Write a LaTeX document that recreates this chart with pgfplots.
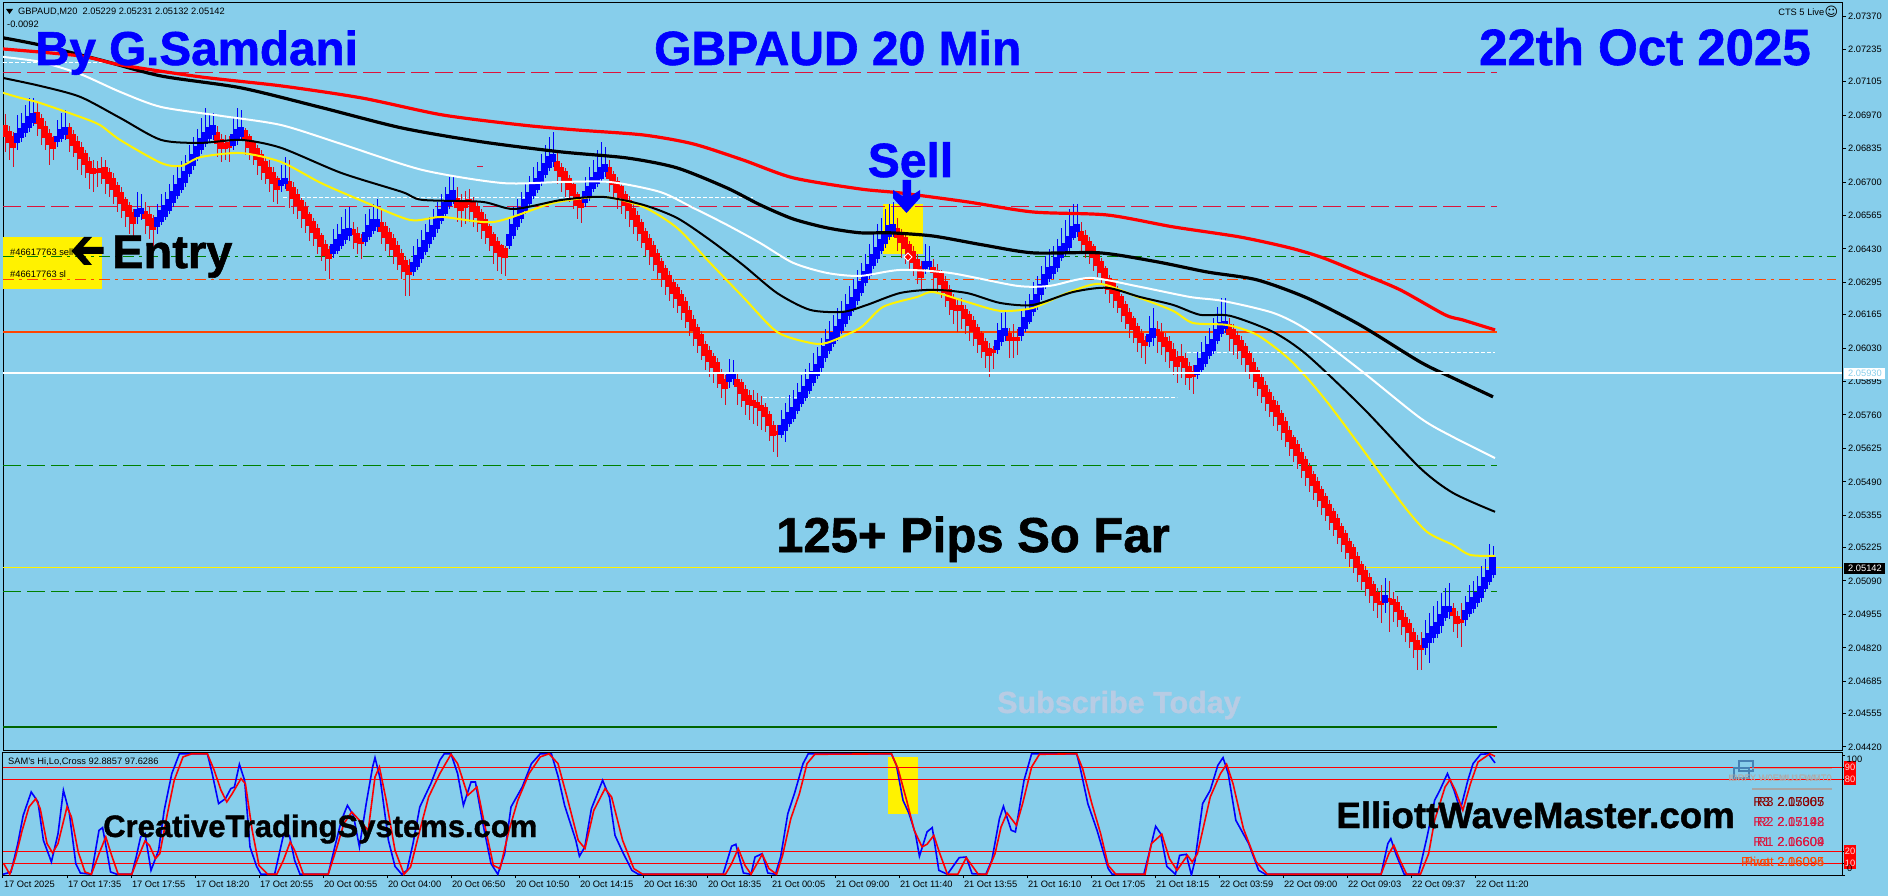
\documentclass[border=0pt]{standalone}
\usepackage{fontspec}
\setmainfont{Liberation Sans}[BoldFeatures={FakeBold=1.2}]
\newfontfamily\dejavu{DejaVu Sans}
\usepackage{pgfplots}
\usepackage{pgfplotstable}
\pgfplotsset{compat=1.18}
\definecolor{chartbg}{RGB}{135,206,235}
\definecolor{crim}{RGB}{220,20,60}
\definecolor{ored}{RGB}{255,69,0}
\definecolor{dgreen}{RGB}{0,128,0}
\definecolor{ddgreen}{RGB}{0,100,0}
\definecolor{pale}{RGB}{184,204,228}
\definecolor{steel}{RGB}{70,130,180}
\definecolor{wickred}{RGB}{215,15,35}
% all prices below are points above 2.04000 (1 point = 0.00001); x is the bar number
\pgfplotstableread{
i o c h l
0 2924 2888 2975 2820
1 2900 2864 2925 2790
2 2880 2844 2900 2760
8 2977 2941 3020 2885
9 2953 2917 2975 2850
10 2920 2884 2945 2830
11 2892 2856 2915 2770
12 2876 2840 2885 2790
16 2916 2880 2940 2820
17 2888 2852 2910 2800
18 2860 2824 2885 2750
19 2835 2799 2860 2730
20 2811 2775 2830 2715
21 2779 2743 2800 2670
22 2752 2738 2790 2660
23 2749 2741 2785 2680
24 2750 2740 2800 2690
25 2755 2719 2790 2650
26 2735 2699 2755 2640
27 2710 2674 2735 2610
28 2682 2646 2700 2580
29 2654 2618 2680 2555
30 2626 2590 2640 2520
31 2601 2565 2620 2490
32 2573 2537 2590 2475
35 2577 2557 2620 2490
36 2565 2529 2600 2470
37 2549 2513 2565 2440
53 2896 2860 2925 2800
54 2868 2840 2895 2780
55 2852 2840 2890 2790
56 2856 2844 2885 2780
60 2904 2876 2920 2810
61 2880 2844 2895 2790
62 2856 2820 2870 2770
63 2831 2795 2850 2730
64 2807 2771 2830 2710
65 2779 2743 2795 2690
66 2755 2719 2790 2660
67 2735 2699 2760 2620
68 2710 2674 2725 2610
71 2700 2668 2790 2595
72 2674 2638 2700 2570
73 2646 2610 2670 2550
74 2622 2586 2635 2515
75 2593 2557 2620 2495
76 2565 2529 2580 2460
77 2537 2501 2555 2440
78 2509 2473 2530 2410
79 2480 2444 2495 2380
80 2444 2408 2465 2340
81 2424 2396 2440 2310
87 2505 2493 2540 2430
88 2490 2458 2520 2410
89 2470 2454 2490 2390
94 2533 2505 2590 2450
95 2517 2481 2540 2420
96 2492 2456 2515 2400
97 2468 2432 2490 2370
98 2440 2404 2460 2345
99 2408 2372 2430 2310
100 2379 2343 2400 2240
101 2360 2330 2390 2240
113 2632 2600 2680 2540
114 2620 2588 2650 2520
115 2622 2602 2665 2530
116 2626 2614 2670 2540
117 2618 2582 2640 2520
118 2597 2561 2615 2500
119 2573 2537 2590 2470
120 2545 2509 2570 2450
121 2517 2481 2530 2420
122 2484 2448 2500 2370
123 2456 2420 2480 2340
124 2440 2404 2450 2330
125 2430 2398 2440 2320
138 2781 2749 2830 2690
139 2757 2725 2775 2660
140 2739 2703 2755 2640
141 2710 2674 2730 2620
142 2686 2650 2700 2590
143 2646 2610 2660 2550
144 2624 2600 2640 2535
151 2755 2719 2790 2660
152 2727 2691 2745 2630
153 2698 2662 2720 2590
154 2678 2642 2690 2570
155 2646 2610 2665 2550
156 2622 2586 2645 2520
157 2589 2553 2610 2490
158 2561 2525 2585 2460
159 2533 2497 2550 2435
160 2496 2460 2515 2400
161 2468 2432 2490 2365
162 2440 2404 2460 2340
163 2408 2372 2430 2310
164 2375 2339 2395 2275
165 2347 2311 2365 2245
166 2319 2283 2340 2220
167 2291 2255 2310 2190
168 2270 2234 2290 2170
169 2242 2206 2265 2145
170 2214 2178 2235 2110
171 2178 2142 2200 2080
172 2141 2105 2165 2040
173 2109 2073 2125 2010
174 2081 2045 2100 1980
175 2040 2004 2060 1940
176 2016 1980 2040 1915
177 1992 1956 2010 1890
178 1968 1932 1990 1870
179 1927 1891 1945 1830
180 1900 1870 1920 1800
183 1901 1877 1935 1800
184 1887 1851 1905 1790
185 1859 1823 1880 1760
186 1836 1806 1860 1740
187 1815 1803 1860 1725
188 1806 1794 1850 1715
189 1794 1782 1835 1700
190 1788 1756 1810 1690
191 1758 1722 1775 1655
192 1714 1678 1735 1610
193 1692 1682 1720 1590
223 2510 2480 2555 2420
224 2490 2458 2510 2395
225 2472 2436 2490 2370
226 2444 2408 2460 2345
227 2416 2380 2440 2320
228 2384 2348 2410 2290
229 2355 2319 2380 2265
232 2352 2338 2390 2260
233 2341 2317 2370 2250
234 2327 2291 2345 2230
235 2295 2259 2320 2195
236 2262 2226 2285 2165
237 2226 2190 2250 2125
238 2200 2184 2230 2095
239 2198 2186 2230 2105
240 2184 2152 2205 2085
241 2161 2125 2180 2060
242 2137 2101 2160 2040
243 2109 2073 2125 2010
244 2085 2049 2100 1990
245 2053 2017 2070 1950
246 2024 2004 2050 1913
247 2022 2014 2040 1945
251 2085 2065 2110 1990
252 2070 2064 2125 1990
253 2070 2064 2105 2000
269 2499 2467 2540 2410
270 2482 2450 2505 2395
271 2458 2426 2480 2370
272 2436 2400 2450 2340
273 2404 2368 2420 2315
274 2375 2339 2395 2285
275 2347 2311 2360 2250
276 2307 2271 2325 2210
277 2291 2255 2300 2190
278 2262 2226 2280 2170
279 2234 2198 2250 2135
280 2202 2166 2220 2105
281 2169 2133 2190 2070
282 2145 2109 2160 2050
283 2113 2077 2130 2015
284 2085 2057 2105 1990
285 2057 2045 2080 1965
288 2100 2082 2140 2010
289 2091 2059 2130 2000
290 2071 2039 2090 1975
291 2053 2017 2080 1950
292 2020 1984 2050 1920
293 1988 1960 2020 1890
294 1992 1980 2045 1910
295 1985 1955 2010 1880
296 1952 1916 1975 1860
297 1932 1920 1960 1845
306 2120 2086 2150 2020
307 2103 2071 2125 2000
308 2079 2047 2100 1985
309 2057 2021 2080 1960
310 2032 1996 2050 1935
311 2004 1968 2020 1905
312 1968 1932 1990 1870
313 1935 1899 1955 1835
314 1907 1871 1925 1810
315 1875 1839 1895 1775
316 1847 1811 1865 1750
317 1814 1778 1835 1715
318 1794 1758 1815 1695
319 1762 1726 1780 1660
320 1730 1694 1750 1630
321 1693 1657 1715 1595
322 1665 1629 1680 1570
323 1637 1601 1660 1540
324 1604 1568 1625 1505
325 1576 1540 1595 1475
326 1548 1512 1565 1450
327 1516 1480 1535 1415
328 1487 1451 1510 1390
329 1455 1419 1475 1355
330 1427 1391 1445 1330
331 1395 1359 1415 1295
332 1366 1330 1385 1270
333 1338 1302 1360 1240
334 1306 1270 1325 1205
335 1278 1242 1295 1180
336 1245 1209 1265 1145
337 1221 1185 1240 1120
338 1185 1149 1205 1085
339 1153 1117 1170 1055
340 1128 1092 1150 1030
341 1100 1064 1120 1000
342 1072 1036 1090 970
343 1040 1004 1060 940
344 1006 996 1075 920
346 1017 1009 1090 885
347 1011 999 1045 925
348 1001 969 1030 905
349 969 937 990 870
350 941 909 960 845
351 916 884 935 820
352 880 848 900 780
353 848 816 870 730
354 825 815 885 730
362 977 953 1000 885
363 945 921 970 860
364 933 925 1000 825
}\redbars
\pgfplotstableread{
i o c h l
3 2862 2894 2970 2830
4 2882 2914 2980 2860
5 2902 2934 3010 2880
6 2925 2961 3040 2900
7 2945 2973 3040 2925
13 2866 2882 2950 2840
14 2880 2908 2980 2860
15 2896 2916 2990 2870
33 2565 2585 2660 2530
34 2577 2589 2650 2545
38 2525 2553 2610 2490
39 2545 2581 2650 2525
40 2565 2601 2660 2545
41 2590 2626 2690 2570
42 2622 2658 2730 2600
43 2650 2686 2760 2630
44 2674 2710 2785 2655
45 2703 2739 2810 2680
46 2739 2775 2850 2720
47 2771 2807 2880 2750
48 2804 2840 2915 2785
49 2836 2872 2960 2815
50 2860 2896 3000 2840
51 2880 2916 2980 2860
52 2896 2924 2980 2870
57 2852 2888 2960 2830
58 2872 2908 3000 2850
59 2888 2916 2990 2870
69 2688 2704 2770 2660
70 2698 2710 2800 2670
82 2416 2444 2510 2395
83 2428 2464 2530 2410
84 2448 2484 2560 2430
85 2469 2505 2590 2450
86 2487 2511 2600 2460
90 2464 2492 2570 2440
91 2485 2521 2590 2465
92 2509 2545 2610 2490
93 2525 2545 2630 2500
102 2343 2371 2440 2320
103 2364 2400 2470 2345
104 2396 2432 2505 2375
105 2424 2460 2530 2405
106 2456 2492 2560 2435
107 2485 2521 2590 2465
108 2517 2553 2620 2495
109 2549 2585 2650 2530
110 2577 2613 2680 2555
111 2610 2646 2720 2590
112 2634 2662 2730 2610
126 2448 2484 2550 2430
127 2489 2525 2600 2470
128 2525 2561 2630 2505
129 2557 2593 2660 2535
130 2590 2626 2695 2570
131 2618 2654 2725 2600
132 2650 2686 2760 2630
133 2674 2710 2780 2655
134 2703 2739 2815 2685
135 2735 2771 2850 2715
136 2763 2799 2880 2745
137 2785 2809 2902 2760
145 2622 2658 2720 2600
146 2642 2678 2760 2625
147 2678 2714 2790 2660
148 2699 2735 2830 2680
149 2719 2755 2862 2700
150 2745 2769 2840 2720
181 1899 1919 1985 1870
182 1911 1923 1980 1880
194 1684 1716 1780 1665
195 1702 1738 1810 1650
196 1730 1766 1840 1710
197 1750 1786 1860 1730
198 1782 1818 1890 1765
199 1811 1847 1920 1790
200 1835 1871 1945 1815
201 1863 1899 1970 1845
202 1895 1931 2010 1875
203 1924 1960 2035 1905
204 1956 1992 2070 1935
205 1996 2032 2105 1975
206 2025 2061 2140 2005
207 2053 2089 2165 2035
208 2077 2113 2190 2060
209 2105 2141 2220 2085
210 2133 2169 2250 2115
211 2166 2202 2280 2145
212 2194 2230 2310 2175
213 2226 2262 2345 2205
214 2259 2295 2375 2240
215 2299 2335 2410 2280
216 2327 2363 2450 2310
217 2368 2404 2490 2350
218 2396 2432 2530 2375
219 2428 2464 2555 2410
220 2456 2492 2590 2435
221 2485 2521 2612 2465
222 2503 2527 2620 2480
230 2355 2377 2450 2330
231 2364 2376 2440 2340
248 2027 2059 2130 2005
249 2061 2097 2170 2040
250 2083 2107 2180 2060
254 2082 2108 2180 2060
255 2113 2149 2220 2095
256 2142 2178 2250 2125
257 2182 2218 2295 2160
258 2206 2242 2320 2185
259 2247 2283 2360 2225
260 2287 2323 2400 2270
261 2315 2351 2430 2295
262 2333 2357 2440 2310
263 2356 2392 2470 2335
264 2400 2436 2515 2380
265 2420 2448 2545 2400
266 2440 2476 2590 2420
267 2481 2517 2610 2465
268 2503 2527 2612 2480
286 2059 2083 2160 2035
287 2075 2107 2190 2040
298 1926 1958 2015 1905
299 1948 1984 2055 1930
300 1972 2008 2080 1955
301 2004 2040 2110 1985
302 2025 2061 2150 2005
303 2065 2101 2195 2045
304 2093 2129 2230 2075
305 2110 2136 2230 2090
345 1005 1029 1100 960
355 826 854 933 790
356 846 874 960 760
357 866 902 990 840
358 882 918 1010 860
359 915 951 1040 880
360 947 983 1060 930
361 971 983 1080 935
365 939 967 1030 910
366 963 999 1075 945
367 983 1019 1090 960
368 1004 1040 1110 985
369 1028 1064 1150 1005
370 1064 1100 1180 1045
371 1092 1128 1240 1075
372 1118 1183 1231 1100
}\bluebars
\pgfplotsset{nomark/.style={only marks,mark size=0pt,mark options={draw=none,fill=none},forget plot},ema/.style={forget plot,smooth,tension=0.45,line join=round}}
\newcommand\wicks[2]{\addplot[nomark,error bars/.cd,y dir=both,y explicit,error mark=none,error bar style={color=#2,line width=1pt}] table[x=i,y=c,y error plus expr=\thisrow{h}-\thisrow{c},y error minus expr=\thisrow{c}-\thisrow{l}] {#1};}
\newcommand\bodies[4]{\addplot[nomark,error bars/.cd,y dir=plus,y explicit,error mark=none,error bar style={color=#2,line width=5.4pt}] table[x=i,y expr=\thisrow{#3}-5,y error expr=\thisrow{#4}-\thisrow{#3}+10] {#1};}
\newcommand\hl[5][]{\addplot[#2,forget plot,#1] coordinates {(-0.5,#3)(#4,#3)};}
\newcommand\tickf{\fontsize{9.3}{11}\selectfont}
\begin{document}
\begin{tikzpicture}
\fill[chartbg] (0,0) rectangle (1888pt,-896pt);
\begin{axis}[at={(3pt,-875pt)},anchor=south west,width=1839pt,height=122.5pt,scale only axis,
 xmin=-0.5,xmax=459.25,ymin=0,ymax=102.08,
 xtick={-0.5,15.5,31.5,47.5,63.5,79.5,95.5,111.5,127.5,143.5,159.5,175.5,191.5,207.5,223.5,239.5,255.5,271.5,287.5,303.5,319.5,335.5,351.5,367.5},
 xticklabels={17 Oct 2025,17 Oct 17:35,17 Oct 17:55,17 Oct 18:20,17 Oct 20:55,20 Oct 00:55,20 Oct 04:00,20 Oct 06:50,20 Oct 10:50,20 Oct 14:15,20 Oct 16:30,20 Oct 18:35,21 Oct 00:05,21 Oct 09:00,21 Oct 11:40,21 Oct 13:55,21 Oct 16:10,21 Oct 17:05,21 Oct 18:15,22 Oct 03:59,22 Oct 09:00,22 Oct 09:03,22 Oct 09:37,22 Oct 11:20},
 ytick={0,10,20,80,90,100},yticklabels={,,,,,},
 xtick pos=bottom,ytick pos=right,tick align=outside,major tick length=3pt,
 x tick label style={font=\tickf,anchor=north west,xshift=-2.5pt,yshift=1pt},
 tick style={black,line width=1pt},axis line style={black,line width=1pt}]
\addplot[fill=yellow,draw=none,forget plot] coordinates {(220.75,98)(228.25,98)(228.25,50.6)(220.75,50.6)};
\addplot[red,line width=1pt,forget plot] coordinates {(-0.5,90)(459.25,90)};
\addplot[red,line width=1pt,forget plot] coordinates {(-0.5,80)(459.25,80)};
\addplot[red,line width=1pt,forget plot] coordinates {(-0.5,20)(459.25,20)};
\addplot[red,line width=1pt,forget plot] coordinates {(-0.5,10)(459.25,10)};
\addplot[blue,line width=1.6pt,forget plot] coordinates {(-0.5,0.6)(1.5,2.5)(3.2,26.2)(4.55,49.7)(6.56,69.2)(8.24,60.9)(9.6,28.9)(11.6,10.9)(13.26,34.5)(14.6,70.6)(16.05,52.5)(17.7,9.5)(18.84,1.7)(21.6,0.6)(23.5,37.2)(24.4,39.5)(26.4,2.5)(28,0.6)(31.7,0.6)(32.8,15)(33.9,31.7)(35,34.5)(36.5,3.9)(38.4,20.6)(39.8,53.9)(41.7,84.5)(43.6,101)(50.6,101)(51.8,84.5)(53.4,59.5)(55.1,63.6)(56.45,72)(57.35,73.3)(58.6,92.25)(59.9,78.9)(61.25,23.4)(62.9,7.2)(64,0.6)(67.4,0.6)(69.6,33)(71.1,33)(72.4,12.3)(73.75,0.6)(80.8,0.6)(82.45,23.4)(84.1,45.6)(85.6,58)(87.1,49.75)(88.6,23.4)(90.3,59.5)(91.9,90)(92.5,97.8)(93.8,80.3)(95.85,28.9)(97.5,7.2)(99.2,0.6)(100.5,3.9)(102,26.2)(103.7,56.7)(106.45,76.1)(108.7,95.6)(109.8,101)(111.5,101)(113.15,84.5)(114.6,58)(116.5,77.5)(117.6,77.5)(119.3,45.6)(121.5,9.5)(123.2,0.6)(124.9,17.8)(126.5,56.7)(129.3,73.3)(131.6,92.8)(133.8,101)(136.6,101)(138.3,81.7)(139.9,58)(142.7,28.9)(143.6,15.6)(144.95,23.4)(146.6,55.3)(149.4,78.9)(151.1,65)(152.5,33)(154.4,19.2)(156.7,3.9)(158.35,0.6)(179.5,0.6)(181.65,24)(182.7,25.6)(184.6,1.7)(186.5,0.6)(187.5,15)(189.3,17.8)(190.7,1.7)(192.6,0.6)(193.9,15)(195.7,51.2)(197.35,67.8)(199.5,92.8)(200.8,101)(221.6,101)(222.85,91.4)(224.5,62.25)(226,51.2)(227.6,34.5)(228.6,15.6)(230.5,35.9)(231.8,39.5)(233.45,3.9)(235.6,0.6)(238.55,14.5)(240.3,15)(241.75,1.1)(245.2,0.6)(246.7,12.25)(248.6,47)(249.6,57.25)(251.55,37.25)(252.6,35.9)(254.75,78.9)(256.65,101)(267.9,101)(268.75,90)(270.7,59.5)(273,37.25)(275.8,5.3)(276.8,0.6)(284.7,0.6)(286,17.8)(287.65,40.6)(288.9,34.5)(290.45,7.2)(292.6,0.6)(293.65,16.4)(295.3,17.25)(296.6,0)(297.5,12.25)(299.4,59.5)(301.3,70.6)(303.2,91.4)(304.5,97.8)(305.8,84.5)(307.7,45.6)(310.9,26.2)(313.4,3.9)(315.1,0.6)(344,0.6)(345.7,26.2)(346.45,30.3)(347.85,16.4)(349.8,0.6)(353.35,0.6)(355.5,31.7)(357.4,62.25)(358.7,70.6)(360.6,84.5)(362.25,70.6)(363.8,53.9)(365.7,78.9)(367,92.8)(368.9,100.6)(370.8,101)(372.5,93.4)};
\addplot[red,line width=1.6pt,forget plot] coordinates {(-0.4,10)(1.2,0.6)(2.65,15)(4.3,37.2)(6,56.7)(7.7,63.6)(8.8,55.3)(10.5,26.2)(11.9,18.4)(13.25,26.2)(15.5,56.7)(16.6,48.4)(18.3,19.2)(20,2.5)(21.6,0.6)(23.5,17.8)(25.2,31.7)(26.65,16.4)(28.3,0.6)(31.7,0.6)(33.35,15)(35,28.4)(36.1,24.75)(37.6,13.6)(38.7,17.8)(40.6,51.2)(42.3,78.9)(44.5,98.4)(46.7,101)(50.6,101)(52.3,87.25)(54,70.6)(55.45,60.9)(56.8,67.8)(59,80.3)(60.1,76.1)(61.8,37.2)(63.5,8)(65.7,0.6)(67.95,0.6)(69.6,12.25)(71.3,27.5)(72.4,20.6)(74.6,0.6)(80.8,0.6)(83,23.4)(84.7,42.8)(86.7,52.5)(88.6,45.6)(90.8,37.2)(92.5,81.7)(93.6,90)(95.3,62.25)(97.5,20.6)(99.75,0.6)(101.4,6.7)(103.7,37.2)(105.9,65)(108.7,84.5)(111.5,100.6)(113.15,92.8)(115.7,66.4)(118,73.3)(119.85,42.8)(122.1,8)(123.75,5.3)(126,37.2)(128.2,62.25)(131,84.5)(133.8,98.4)(136,101)(138.25,92.8)(140.5,65)(143.3,28.9)(145,22)(147.2,53.9)(150,72)(151.65,65)(154.4,28.9)(157.2,5.3)(159.45,0.6)(180.1,0.6)(181.65,9.5)(183.3,22)(185,8)(186.5,0.6)(189.3,17.25)(191,5.3)(192.9,0.6)(194.4,16.4)(196.45,47)(198.6,67.8)(200.5,92.8)(202.45,100.6)(221.6,101)(223.25,88.6)(225.4,62.25)(227.3,37.25)(229.25,23.4)(230.5,25.6)(232.2,33)(233.7,17.8)(235.6,0.6)(238.2,0.6)(240.3,14.5)(243.3,0.6)(245.4,0.6)(247.5,17.8)(249,40)(250.5,51.7)(252.85,41.4)(254.4,59.5)(256.65,90)(258.6,100.6)(267.9,101)(269.4,88.6)(271.7,59.5)(273.9,34.5)(275.8,8)(277.7,0.6)(285,0.6)(286.6,26.2)(289.2,34)(291.1,13.6)(293,3.9)(295.6,16.4)(296.8,10.9)(298.1,17.8)(301.3,65)(303.85,84.5)(305.4,92.25)(307,76.1)(309.6,38.6)(312.8,10.9)(315.6,0.6)(344,0.6)(345.95,17.8)(347.2,24.75)(348.75,12.25)(350.4,0.6)(353.85,0.6)(355.9,17.8)(357.4,45.6)(360,73.3)(361.25,79.5)(362.55,70.6)(364.45,53.9)(366.35,76.1)(368.25,94.2)(371.2,101)(372.5,98.9)};
\end{axis}
\begin{axis}[at={(3pt,-750.5pt)},anchor=south west,width=1839pt,height=747.5pt,scale only axis,
 xmin=-0.5,xmax=459.25,ymin=405.6,ymax=3422.5,xtick=\empty,
 ytick={3370,3235,3105,2970,2835,2700,2565,2430,2295,2165,2030,1895,1760,1625,1490,1355,1225,1090,955,820,685,555,420},
 yticklabels={2.07370,2.07235,2.07105,2.06970,2.06835,2.06700,2.06565,2.06430,2.06295,2.06165,2.06030,2.05895,2.05760,2.05625,2.05490,2.05355,2.05225,2.05090,2.04955,2.04820,2.04685,2.04555,2.04420},
 ytick pos=right,yticklabel pos=right,tick align=outside,major tick length=4pt,
 y tick label style={font=\tickf,anchor=west,xshift=-1.5pt},
 tick style={black,line width=1pt},axis line style={black,line width=1pt}]
% highlight boxes
\addplot[fill=yellow,draw=none,forget plot] coordinates {(-0.5,2478)(24.25,2478)(24.25,2269)(-0.5,2269)};
\addplot[fill=yellow,draw=none,forget plot] coordinates {(219.5,2612)(229.5,2612)(229.5,2410)(219.5,2410)};
% price levels
\hl{crim,line width=1pt,dash pattern=on 18pt off 6pt}{3144}{373}{}
\hl{crim,line width=1pt,dash pattern=on 18pt off 6pt}{2600}{373}{}
\hl{dgreen,line width=1pt,dash pattern=on 11pt off 5pt on 3pt off 5pt}{2398}{457.75}{}
\hl{ored,line width=1pt,dash pattern=on 11pt off 5pt on 3pt off 5pt}{2307}{457.75}{}
\hl{ored,line width=2pt}{2095}{373}{}
\hl{dgreen,line width=1pt,dash pattern=on 18pt off 6pt}{1554}{373}{}
\hl{dgreen,line width=1pt,dash pattern=on 18pt off 6pt}{1046}{373}{}
\hl{yellow,line width=1.2pt}{1143}{459.25}{}
\hl{ddgreen,line width=1.6pt}{501}{373}{}
\addplot[white,line width=1pt,dash pattern=on 4pt off 2pt,forget plot] coordinates {(-0.5,3181)(27,3181)};
\addplot[white,line width=1pt,dash pattern=on 4pt off 2pt,forget plot] coordinates {(69.5,2636)(187,2636)};
\addplot[white,line width=1pt,dash pattern=on 4pt off 2pt,forget plot] coordinates {(189.5,1829)(293,1829)};
\addplot[white,line width=1pt,dash pattern=on 4pt off 2pt,forget plot] coordinates {(295.5,2010)(372.5,2010)};
\addplot[crim,line width=1pt,forget plot] coordinates {(118,2761)(119.5,2761)};
% bars
\wicks{\redbars}{wickred}\wicks{\bluebars}{blue}
\bodies{\redbars}{red}{c}{o}\bodies{\bluebars}{blue}{o}{c}
% moving averages
\addplot[yellow,line width=2pt,ema] coordinates {(-0.5,3060)(3.75,3040)(8.75,3019)(18.75,2963)(23.75,2930)(28.75,2870)(39,2777)(44,2765)(49,2801)(59,2817)(69,2781)(79,2696)(89.25,2624)(101.25,2547)(109.25,2559)(122.25,2539)(137.25,2616)(149.5,2640)(159.5,2600)(168,2515)(176.25,2374)(184.5,2236)(193,2095)(201.25,2051)(205.5,2051)(213.75,2111)(219.5,2196)(228,2236)(232,2256)(240.5,2216)(248.75,2180)(257,2192)(265.5,2252)(273.75,2289)(283.75,2232)(292,2180)(297,2131)(305.5,2123)(313,2083)(321.25,1982)(329.5,1833)(339.5,1619)(349.5,1397)(355.5,1288)(362,1235)(366.25,1195)(372.5,1191)};
\addplot[black,line width=2pt,ema] coordinates {(-0.5,3120)(8.75,3088)(18.75,3044)(28.75,2959)(39,2870)(49,2858)(59,2870)(69,2838)(84,2737)(99.25,2660)(104.25,2628)(119.25,2620)(127.25,2591)(139.25,2628)(149.5,2640)(159.5,2608)(168,2555)(176.25,2466)(184.5,2365)(193,2252)(201.25,2184)(209.5,2176)(215.5,2204)(223.75,2252)(232,2265)(240.5,2252)(248.75,2212)(257,2204)(267,2256)(275.5,2273)(283.75,2236)(292,2204)(298.75,2164)(306.25,2160)(317,2095)(325.5,2002)(339.5,1788)(353.75,1546)(362,1445)(372.5,1369)};
\addplot[white,line width=2pt,ema] coordinates {(-0.5,3205)(8.75,3185)(18.75,3136)(28.75,3064)(39,3003)(54,2967)(69,2930)(84,2854)(104.25,2749)(124.25,2696)(138.75,2700)(151.25,2700)(163.75,2660)(172,2596)(180.5,2527)(188.75,2454)(197,2374)(205.5,2333)(213.75,2321)(223.75,2345)(236.25,2333)(253,2281)(261.25,2281)(271.25,2313)(283.75,2277)(296.25,2236)(304.5,2220)(317,2172)(325.5,2103)(338.75,1942)(353.75,1748)(362,1671)(372.5,1586)};
\addplot[black,line width=3.2pt,ema] coordinates {(-0.5,3282)(8.75,3253)(23.75,3193)(39,3128)(59,3080)(79,3001)(99.25,2918)(119.25,2862)(138.75,2822)(155.5,2797)(168,2757)(180.5,2676)(188.75,2608)(197,2551)(205.5,2515)(213.75,2495)(221.25,2495)(232,2482)(244.5,2446)(257,2414)(273.75,2414)(288,2378)(300.5,2337)(313,2305)(325.5,2232)(338.75,2123)(353.75,1974)(362,1909)(372,1833)};
\addplot[red,line width=3.2pt,ema] coordinates {(-0.5,3237)(18.75,3209)(28.75,3173)(49,3124)(69,3088)(89.25,3039)(109.25,2971)(129.25,2930)(143,2910)(159.5,2890)(172,2854)(184.5,2789)(197,2717)(213.75,2672)(223.75,2656)(240.5,2620)(257,2579)(275.5,2567)(292,2519)(308.75,2478)(321.25,2434)(329.5,2394)(338.75,2333)(348.75,2265)(360,2164)(364.5,2143)(372.5,2103)};
\hl{white,line width=2.4pt}{1930}{459.25}{}
\end{axis}
% large titles
\node[anchor=base west,inner sep=0,text=blue,font=\fontsize{47.6}{50}\selectfont\bfseries] at (35pt,-65pt) {By G.Samdani};
\node[anchor=base west,inner sep=0,text=blue,font=\fontsize{48}{50}\selectfont\bfseries] at (654pt,-65pt) {GBPAUD 20 Min};
\node[anchor=base east,inner sep=0,text=blue,font=\fontsize{51}{53}\selectfont\bfseries] at (1811pt,-65pt) {22th Oct 2025};
\node[anchor=base,inner sep=0,text=blue,font=\fontsize{48}{50}\selectfont\bfseries] at (910.5pt,-177pt) {Sell};
\node[anchor=base west,inner sep=0,text=black,font=\fontsize{47}{50}\selectfont\bfseries] at (112pt,-268pt) {Entry};
\node[anchor=base west,inner sep=0,text=black,font=\fontsize{49}{51}\selectfont\bfseries] at (776pt,-552pt) {125+ Pips So Far};
\node[anchor=base west,inner sep=0,text=pale,font=\fontsize{30.5}{33}\selectfont\bfseries] at (997pt,-713pt) {Subscribe Today};
\node[anchor=base west,inner sep=0,text=black,font=\fontsize{31}{33}\selectfont\bfseries] at (103pt,-837pt) {CreativeTradingSystems.com};
\node[anchor=base east,inner sep=0,text=black,font=\fontsize{36.7}{39}\selectfont\bfseries] at (1735pt,-828pt) {ElliottWaveMaster.com};
% arrows
\fill[blue] (902.5pt,-180pt)--(911pt,-180pt)--(911pt,-196pt)--(920pt,-190pt)--(920pt,-198pt)--(906.5pt,-213pt)--(893pt,-198pt)--(893pt,-190pt)--(902.5pt,-196pt)--cycle;
\fill[black] (71.5pt,-251pt)--(84pt,-237pt)--(92pt,-237pt)--(83pt,-247pt)--(103.6pt,-247pt)--(103.6pt,-254pt)--(83pt,-254pt)--(92pt,-265pt)--(84pt,-265pt)--cycle;
\fill[red,draw=white,line width=0.8pt] (904pt,-257pt)--(908pt,-253pt)--(912pt,-257pt)--(908pt,-261pt)--cycle;
% small texts
\node[anchor=west,inner sep=0,font=\tickf] at (10pt,-252pt) {\#46617763 sell};
\node[anchor=west,inner sep=0,font=\tickf] at (10pt,-274pt) {\#46617763 sl};
\fill[black] (6pt,-9pt)--(13pt,-9pt)--(9.5pt,-14pt)--cycle;
\node[anchor=west,inner sep=0,font=\tickf] at (18pt,-12pt) {GBPAUD,M20\ \ 2.05229 2.05231 2.05132 2.05142};
\node[anchor=west,inner sep=0,font=\tickf] at (7pt,-24pt) {-0.0092};
\node[anchor=east,inner sep=0,font=\tickf] at (1824.5pt,-12pt) {CTS 5 Live};
\node[inner sep=0,font=\dejavu\fontsize{13}{14}\selectfont] at (1831.5pt,-12pt) {☺};
\node[anchor=west,inner sep=0,font=\tickf] at (8pt,-762pt) {SAM's Hi,Lo,Cross 92.8857 97.6286};
% right-hand price tags
\fill[white] (1844pt,-367.5pt) rectangle (1885pt,-378.5pt);
\node[anchor=west,inner sep=0,text=chartbg,font=\tickf] at (1848pt,-373pt) {2.05930};
\fill[black] (1844pt,-563pt) rectangle (1885pt,-574pt);
\node[anchor=west,inner sep=0,text=white,font=\tickf] at (1848pt,-568.5pt) {2.05142};
% oscillator level tags
\foreach \v/\y in {90/767,80/779,20/851,10/863}{
 \fill[red] (1844pt,-\y pt+6pt) rectangle (1856pt,-\y pt-6pt);
 \node[inner sep=0,text=white!85!red,font=\tickf] at (1850pt,-\y pt) {\v};}
\node[anchor=west,inner sep=0,font=\tickf] at (1846.5pt,-759pt) {100};
\node[anchor=west,inner sep=0,font=\tickf] at (1847pt,-868.5pt) {0};
% pivot panel
\draw[steel,line width=1.6pt] (1739pt,-761pt) rectangle (1753pt,-771pt);
\draw[steel,line width=1.6pt] (1734pt,-768pt) rectangle (1749pt,-778pt);
\draw[gray!70,line width=1pt] (1752pt,-768pt)--(1832pt,-768pt);
\draw[gray!70,line width=1.6pt] (1752pt,-789pt)--(1832pt,-789pt);
\node[anchor=east,inner sep=0,text=gray!70,font=\tickf] at (1832pt,-778pt) {IDRFX W0EMU1FWMT0};
\node[anchor=east,inner sep=0,text=gray!60,font=\tickf] at (1832pt,-778.5pt) {MRFX W0EWU1PWRT0};
\definecolor{dred}{RGB}{139,0,0}
\foreach \c/\y/\a/\b in {dred/802/{R3 2.15007}/{R3 \ 2.07365},crim/822/{R2 2.15192}/{R2 \ 2.07148},crim/842/{R1 2.16609}/{R1 \ 2.06604}}{
 \node[anchor=east,inner sep=0,text=\c,font=\fontsize{13}{14}\selectfont] at (1824.5pt,-\y pt) {\a};
 \node[anchor=east,inner sep=0,text=\c,font=\fontsize{13}{14}\selectfont] at (1824.5pt,-\y pt) {\b};}
\node[anchor=east,inner sep=0,text=ored,font=\fontsize{13}{14}\selectfont] at (1824.5pt,-862pt) {Pivot 2.16095};
\node[anchor=east,inner sep=0,text=ored,font=\fontsize{13}{14}\selectfont] at (1824.5pt,-862pt) {Pivot \ 2.06094};
\end{tikzpicture}
\end{document}
